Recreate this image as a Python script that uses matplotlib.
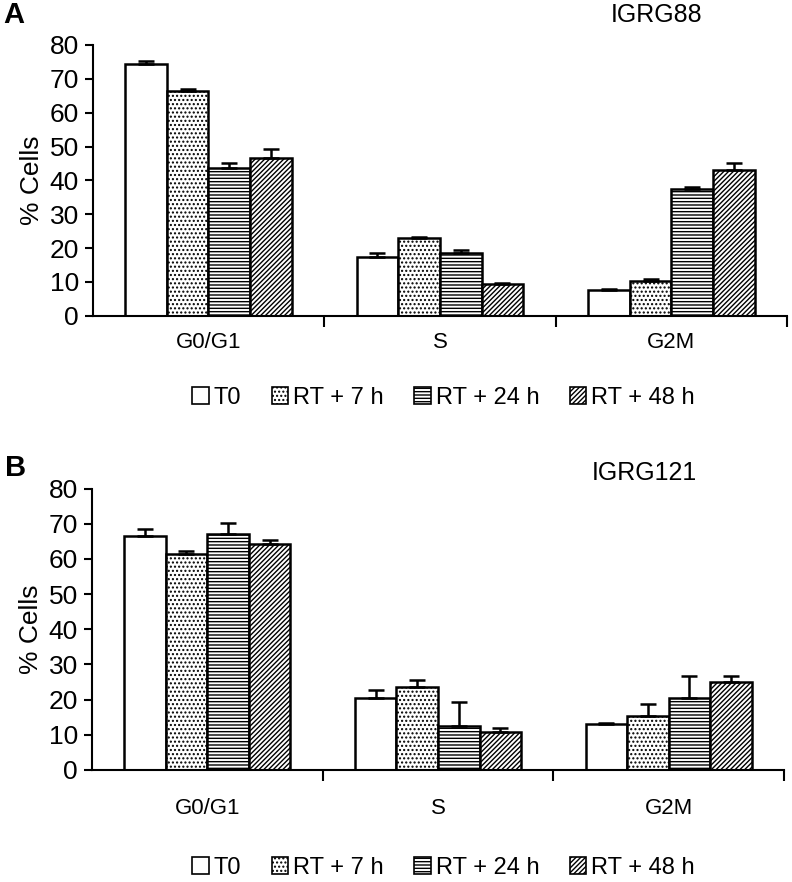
import numpy as np
import matplotlib
matplotlib.use("Agg")
import matplotlib.pyplot as plt
from matplotlib.patches import Patch

plt.rcParams["font.family"] = ["Liberation Sans", "DejaVu Sans"]
plt.rcParams["hatch.linewidth"] = 1.0

phases = ["G0/G1", "S", "G2M"]
series = ["T0", "RT + 7 h", "RT + 24 h", "RT + 48 h"]
hatches = ["", "....", "-----", "///////"]

# IGRG88 (panel A), one list per series over the phases
a_t0 = [74.5, 17.5, 7.7]
a_rt7 = [66.4, 22.9, 10.3]
a_rt24 = [43.7, 18.5, 37.5]
a_rt48 = [46.5, 9.4, 43.0]
a_err_t0 = [0.8, 1.0, 0.2]
a_err_rt7 = [0.6, 0.5, 0.6]
a_err_rt24 = [1.3, 1.0, 0.5]
a_err_rt48 = [2.7, 0.4, 2.0]

# IGRG121 (panel B)
b_t0 = [66.6, 20.6, 13.2]
b_rt7 = [61.3, 23.7, 15.4]
b_rt24 = [67.2, 12.6, 20.4]
b_rt48 = [64.3, 10.7, 24.9]
b_err_t0 = [1.9, 2.1, 0.3]
b_err_rt7 = [0.9, 1.9, 3.4]
b_err_rt24 = [3.1, 6.6, 6.4]
b_err_rt48 = [1.0, 1.3, 1.9]


def draw_panel(ax, values, errors, label_pad):
    x = np.arange(len(phases))
    w = 0.18
    for i, (vals, errs) in enumerate(zip(values, errors)):
        pos = x + (i - 1.5) * w
        ax.bar(pos, vals, width=w, color="white", edgecolor="black",
               linewidth=1.8, hatch=hatches[i], zorder=2)
        ax.errorbar(pos, vals, yerr=[np.zeros(len(vals)), errs], fmt="none",
                    ecolor="black", elinewidth=1.8, capsize=6, capthick=1.8,
                    zorder=3)
    ax.set_xlim(-0.5, 2.5)
    ax.set_ylim(0, 80)
    ax.set_yticks(range(0, 81, 10))
    ax.tick_params(axis="y", labelsize=19, width=1.5, length=6, pad=4)
    ax.set_xticks(x)
    ax.set_xticklabels(phases, fontsize=16)
    ax.tick_params(axis="x", which="major", length=0, pad=label_pad)
    ax.set_xticks([0.5, 1.5, 2.5], minor=True)
    ax.tick_params(axis="x", which="minor", length=8, width=1.5)
    for s in ["top", "right"]:
        ax.spines[s].set_visible(False)
    for s in ["left", "bottom"]:
        ax.spines[s].set_linewidth(1.5)
    ax.set_ylabel("% Cells", fontsize=19, labelpad=4)


def add_legend(y):
    handles = [Patch(facecolor="white", edgecolor="black", hatch=h,
                     linewidth=1.2) for h in hatches]
    fig.legend(handles, series, loc="center", bbox_to_anchor=(0.56, y),
               ncol=4, frameon=False, fontsize=17, handlelength=0.7,
               handleheight=0.7, handletextpad=0.2, columnspacing=1.3)


fig = plt.figure(figsize=(7.92, 8.82), dpi=100)
ax_a = fig.add_axes([0.117, 0.642, 0.877, 0.307])
ax_b = fig.add_axes([0.116, 0.127, 0.874, 0.319])

draw_panel(ax_a, [a_t0, a_rt7, a_rt24, a_rt48],
           [a_err_t0, a_err_rt7, a_err_rt24, a_err_rt48], 12)
draw_panel(ax_b, [b_t0, b_rt7, b_rt24, b_rt48],
           [b_err_t0, b_err_rt7, b_err_rt24, b_err_rt48], 20)

fig.text(0.829, 0.983, "IGRG88", fontsize=18, ha="center", va="center")
fig.text(0.814, 0.464, "IGRG121", fontsize=18, ha="center", va="center")
fig.text(0.004, 0.983, "A", fontsize=21, fontweight="bold", ha="left", va="center")
fig.text(0.006, 0.469, "B", fontsize=21, fontweight="bold", ha="left", va="center")

add_legend(0.549)
add_legend(0.016)

fig.savefig("out.png", dpi=100)
